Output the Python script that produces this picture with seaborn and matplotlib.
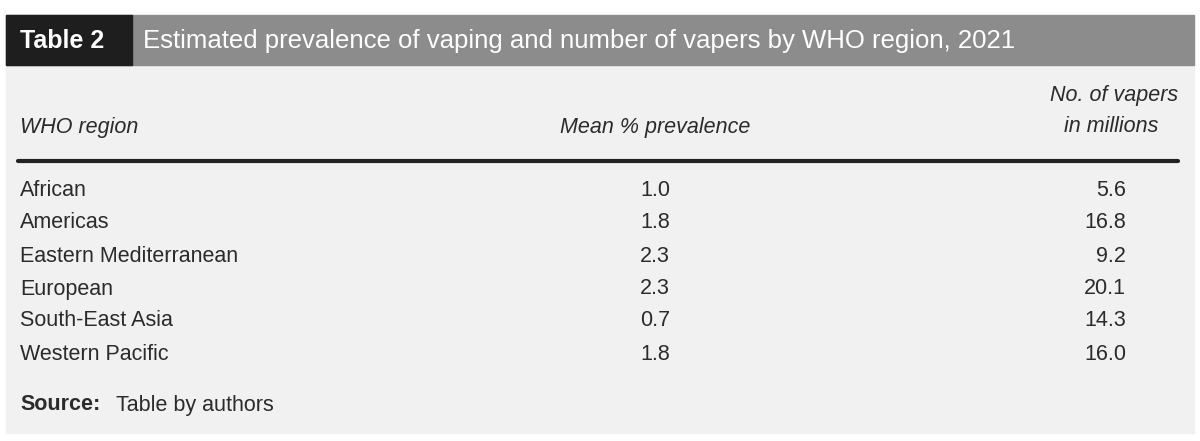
import matplotlib.pyplot as plt
import seaborn as sns
from matplotlib.patches import Rectangle

sns.set_style("white")
plt.rcParams["font.family"] = ["Liberation Sans", "DejaVu Sans"]

regions = ["African", "Americas", "Eastern Mediterranean", "European",
           "South-East Asia", "Western Pacific"]
prevalence = [1.0, 1.8, 2.3, 2.3, 0.7, 1.8]
vapers = [5.6, 16.8, 9.2, 20.1, 14.3, 16.0]

fig = plt.figure(figsize=(12, 4.41), dpi=100)
fig.patch.set_facecolor("white")
ax = fig.add_axes([0, 0, 1, 1])
ax.set_xlim(0, 1200)
ax.set_ylim(441, 0)
ax.axis("off")

txt = "#2b2b2b"
# body and header bars
ax.add_patch(Rectangle((6, 15), 1188, 418, color="#f1f1f1", zorder=0))
ax.add_patch(Rectangle((6, 15), 1188, 50, color="#8c8c8c", zorder=1))
ax.add_patch(Rectangle((6, 15), 126, 50, color="#1e1e1e", zorder=2))
ax.text(20, 41, "Table 2", color="white", fontsize=18, fontweight="bold",
        va="center", zorder=3)
ax.text(143, 41, "Estimated prevalence of vaping and number of vapers by WHO region, 2021",
        color="white", fontsize=18.5, va="center", zorder=3)

# column headers
ax.text(20, 127, "WHO region", fontsize=15.5, style="italic", color=txt, va="center")
ax.text(655, 127, "Mean % prevalence", fontsize=15.5, style="italic", color=txt,
        va="center", ha="center")
ax.text(1178, 96, "No. of vapers", fontsize=15.5, style="italic", color=txt,
        va="center", ha="right")
ax.text(1158, 127, "in millions", fontsize=15.5, style="italic", color=txt,
        va="center", ha="right")
ax.plot([18, 1178], [161, 161], color="#222222", lw=3)

row_y = [190, 222, 256, 289, 321, 354]
for y, r, p, v in zip(row_y, regions, prevalence, vapers):
    ax.text(20, y, r, fontsize=15.5, color=txt, va="center")
    ax.text(655, y, f"{p:.1f}", fontsize=15.5, color=txt, va="center", ha="center")
    ax.text(1126, y, f"{v:.1f}", fontsize=15.5, color=txt, va="center", ha="right")

ax.text(20, 405, "Source:", fontsize=15.5, fontweight="bold", color=txt, va="center")
ax.text(116, 405, "Table by authors", fontsize=15.5, color=txt, va="center")

fig.savefig("out.png", dpi=100)
